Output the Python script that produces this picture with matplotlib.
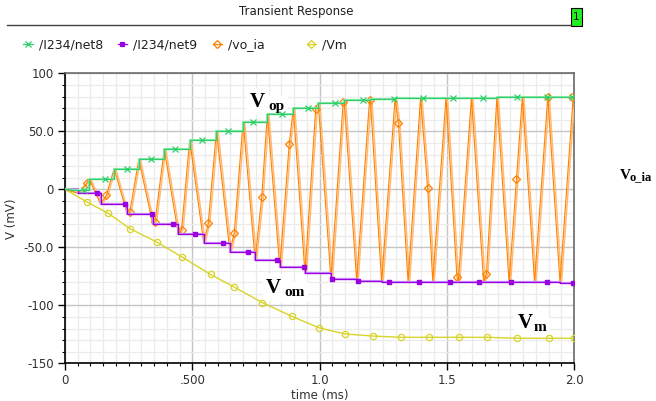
import numpy as np
import matplotlib.pyplot as plt
from matplotlib.lines import Line2D
from matplotlib.patches import Rectangle

# -----------------------------
# Data (time in ms, voltage in mV)
# -----------------------------
# /I234/net8 : positive peak hold (steps at each peak)
net8_t = [0.0, 0.02, 0.095, 0.193, 0.29, 0.39, 0.49, 0.595, 0.70, 0.795, 0.897,
          0.995, 1.097, 1.197, 1.297, 1.397, 1.497, 1.597, 1.697, 1.797, 1.897, 2.0]
net8_v = [0.0, -1.0, 8.9, 17.8, 25.9, 34.5, 42.5, 50.3, 58.3, 64.7, 69.8,
          74.7, 77.0, 78.1, 78.4, 78.8, 79.0, 79.0, 79.3, 79.3, 79.8, 79.8]
net8_marks = [0.075, 0.158, 0.243, 0.336, 0.434, 0.537, 0.639, 0.737, 0.852, 0.954,
              1.061, 1.172, 1.293, 1.405, 1.523, 1.644, 1.775, 1.895, 1.993]

# /I234/net9 : negative peak hold (steps at each trough)
net9_t = [0.0, 0.05, 0.14, 0.245, 0.345, 0.445, 0.545, 0.648, 0.747, 0.844, 0.943,
          1.045, 1.146, 1.244, 1.348, 1.445, 1.545, 1.645, 1.745, 1.845, 1.945, 2.0]
net9_v = [0.0, -3.4, -12.9, -21.6, -30.2, -38.5, -46.0, -53.8, -60.9, -67.3, -72.4,
          -77.6, -78.8, -79.7, -80.0, -79.5, -80.0, -80.0, -80.2, -79.8, -80.5, -80.5]
net9_marks = [0.124, 0.236, 0.34, 0.426, 0.511, 0.622, 0.72, 0.832, 0.94,
              1.048, 1.152, 1.272, 1.392, 1.513, 1.628, 1.752, 1.893, 1.997]

# /vo_ia : output swing, extremes
peak_t = [0.095, 0.193, 0.29, 0.39, 0.49, 0.595, 0.70, 0.795, 0.897, 0.995,
          1.097, 1.197, 1.297, 1.397, 1.497, 1.597, 1.697, 1.797, 1.897, 1.997]
peak_v = [8.9, 17.8, 25.9, 34.5, 42.5, 50.3, 58.3, 64.7, 69.8, 74.7,
          77.0, 78.1, 78.4, 78.8, 79.0, 79.0, 79.3, 79.3, 79.8, 79.8]
trough_t = [0.05, 0.14, 0.245, 0.345, 0.445, 0.545, 0.648, 0.747, 0.844, 0.943,
            1.045, 1.146, 1.244, 1.348, 1.445, 1.545, 1.645, 1.745, 1.845, 1.945]
trough_v = [-3.4, -12.9, -21.6, -30.2, -38.5, -46.0, -53.8, -60.9, -67.3, -72.4,
            -77.6, -78.8, -79.7, -80.0, -79.5, -80.0, -80.0, -80.2, -79.8, -80.5]
# points where the diamond markers sit on the trace
vo_mark_t = [0.085, 0.163, 0.255, 0.354, 0.458, 0.563, 0.665, 0.773, 0.881, 0.985,
             1.093, 1.2, 1.31, 1.425, 1.54, 1.656, 1.774, 1.896, 1.992]
vo_mark_v = [5.2, -4.9, -19.3, -27.9, -35.1, -29.3, -37.4, -6.9, 38.8, 69.0,
             75.0, 77.0, 56.9, 0.9, -75.5, -73.0, 8.9, 79.8, 79.8]

# /Vm
vm_t = [0.0, 0.085, 0.17, 0.255, 0.36, 0.46, 0.572, 0.665, 0.775, 0.89, 0.998,
        1.10, 1.21, 1.32, 1.43, 1.55, 1.657, 1.777, 1.90, 2.0]
vm_v = [0.0, -10.8, -20.7, -33.9, -45.4, -58.4, -73.4, -84.3, -97.6, -109.4, -119.4,
        -124.7, -126.5, -127.6, -127.6, -127.6, -127.6, -128.4, -128.4, -128.4]

xticks = [0, 0.5, 1.0, 1.5, 2.0]
xtick_labels = ["0", ".500", "1.0", "1.5", "2.0"]
yticks = [-150, -100, -50, 0, 50, 100]
ytick_labels = ["-150", "-100", "-50.0", "0", "50.0", "100"]

# colours
GREEN, GREEN_L = "#2fcf6a", "#8fe8ae"
PURPLE, PURPLE_L = "#9a00e0", "#c98cff"
ORANGE, ORANGE_L = "#ff8200", "#ffbb78"
YELLOW = "#d8d428"

# -----------------------------
# Figure / axes
# -----------------------------
W, H = 656, 401
fig = plt.figure(figsize=(W / 100, H / 100), dpi=100)
ax = fig.add_axes([65 / W, 1 - 363.3 / H, (574 - 65) / W, (363.3 - 73.3) / H])


def fx(x):
    return x / W


def fy(y):
    return 1 - y / H


# orange signal: extremes in time order (markers drawn on top)
vo_t = np.array([0.0] + trough_t + peak_t + vo_mark_t[:-2] + [2.0])
vo_v = np.array([0.0] + trough_v + peak_v + vo_mark_v[:-2] + [79.5])
order = np.argsort(vo_t, kind="stable")
vo_t, vo_v = vo_t[order], vo_v[order]

# step-held values under the marker times
net8_mv = np.array(net8_v)[np.searchsorted(net8_t, net8_marks, side="right") - 1]
net9_mv = np.array(net9_v)[np.searchsorted(net9_t, net9_marks, side="right") - 1]

# yellow Vm
ax.plot(vm_t, vm_v, color=YELLOW, lw=1.0, zorder=3)
ax.plot(vm_t[1:], vm_v[1:], ls="none", marker="o", ms=4.5, mfc="none", mec=YELLOW, mew=0.9, zorder=3)

# orange vo_ia (light under-trace + dark trace)
ax.plot(vo_t + 0.006, vo_v, color=ORANGE_L, lw=1.1, zorder=4)
ax.plot(vo_t, vo_v, color=ORANGE, lw=0.8, zorder=4.1)
ax.plot(vo_mark_t, vo_mark_v, ls="none", marker="D", ms=4, mfc="none",
        mec=ORANGE, mew=0.9, zorder=4.2)

# purple net9
ax.plot(net9_t, net9_v, drawstyle="steps-post", color=PURPLE_L, lw=1.6, zorder=5)
ax.plot(net9_t, net9_v, drawstyle="steps-post", color=PURPLE, lw=0.9, zorder=5.1)
ax.plot(net9_marks, net9_mv, ls="none", marker="s", ms=2.6, color=PURPLE, zorder=5.2)

# green net8
ax.plot(net8_t, net8_v, drawstyle="steps-post", color=GREEN_L, lw=1.5, zorder=6)
ax.plot(net8_t, net8_v, drawstyle="steps-post", color=GREEN, lw=0.9, zorder=6.1)
ax.plot(net8_marks, net8_mv, ls="none", marker="x", ms=5, mew=0.9, color=GREEN, zorder=6.2)

# -----------------------------
# Axes styling
# -----------------------------
ax.set_xlim(0, 2.0)
ax.set_ylim(-150, 100)
ax.set_xticks(xticks)
ax.set_xticklabels(xtick_labels)
ax.set_yticks(yticks)
ax.set_yticklabels(ytick_labels)
ax.set_xticks(np.arange(0, 2.0001, 0.05), minor=True)
ax.set_yticks(np.arange(-150, 100.1, 10), minor=True)
ax.set_axisbelow(True)
ax.grid(which="minor", color="#ebebeb", lw=0.9)
ax.grid(which="major", color="#c4c4c4", lw=1.0)
ax.tick_params(which="major", direction="out", length=5, width=1, labelsize=8.5,
               labelcolor="#303030", pad=3)
ax.tick_params(which="minor", direction="out", length=2.5, width=0.8)
for side in ("left", "bottom"):
    ax.spines[side].set_color("black")
    ax.spines[side].set_linewidth(1.2)
for side in ("top", "right"):
    ax.spines[side].set_color("#6a6a6a")
    ax.spines[side].set_linewidth(1.2)

ax.set_xlabel("time (ms)", fontsize=8.5, color="#303030", labelpad=1)
ax.set_ylabel("V (mV)", fontsize=8.5, color="#303030", labelpad=4)

# -----------------------------
# Annotations (serif, bold, with white background)
# -----------------------------
serif = "Liberation Serif"
box = dict(facecolor="white", edgecolor="none", pad=2.5)


def label(x, y, main, sub, dx=13, dy=-2):
    kw = dict(family=serif, weight="bold", color="black", va="baseline", bbox=box, zorder=2)
    ax.text(x, y, main, fontsize=15, **kw)
    ax.annotate(sub, xy=(x, y), xytext=(dx, dy), textcoords="offset points",
                fontsize=11, **kw)


label(0.727, 71, "V", "op")
label(0.79, -89.3, "V", "om")
label(1.78, -119.6, "V", "m", dx=11)

# label outside the plot, on the right
fig.text(fx(620), fy(179), "V", family=serif, weight="bold", fontsize=11, va="baseline")
fig.text(fx(629.5), fy(180), "o_ia", family=serif, weight="bold", fontsize=9, va="baseline")

# -----------------------------
# Header: title, rule, subwindow tag, legend row
# -----------------------------
fig.text(fx(296), fy(12), "Transient Response", fontsize=8.5, color="#202020",
         ha="center", va="center")
fig.add_artist(Line2D([fx(7), fx(571)], [fy(25), fy(25)], color="#404040", lw=1.0))
fig.add_artist(Rectangle((fx(570.5), fy(25.5)), 11 / W, 17 / H, facecolor="#22ee22",
                         edgecolor="black", lw=0.8))
fig.text(fx(576), fy(17), "1", fontsize=7.5, ha="center", va="center", color="black")

legend_items = [
    (28, "/I234/net8", GREEN, "x", 4.5, "full"),
    (122, "/I234/net9", PURPLE, "s", 2.2, "full"),
    (217, "/vo_ia", ORANGE, "D", 4, "none"),
    (311, "/Vm", YELLOW, "D", 4, "none"),
]
for x0, name, col, mk, ms, fill in legend_items:
    fig.add_artist(Line2D([fx(x0 - 4.5), fx(x0 + 4.5)], [fy(44), fy(44)], color=col, lw=0.9))
    fig.add_artist(Line2D([fx(x0)], [fy(44)], color=col, marker=mk, ms=ms, mew=0.9,
                          mfc=col if fill == "full" else "none", mec=col))
    fig.text(fx(x0 + 11), fy(44.5), name, fontsize=9, color="#202020", va="center", ha="left")

fig.savefig("out.png", dpi=100)
